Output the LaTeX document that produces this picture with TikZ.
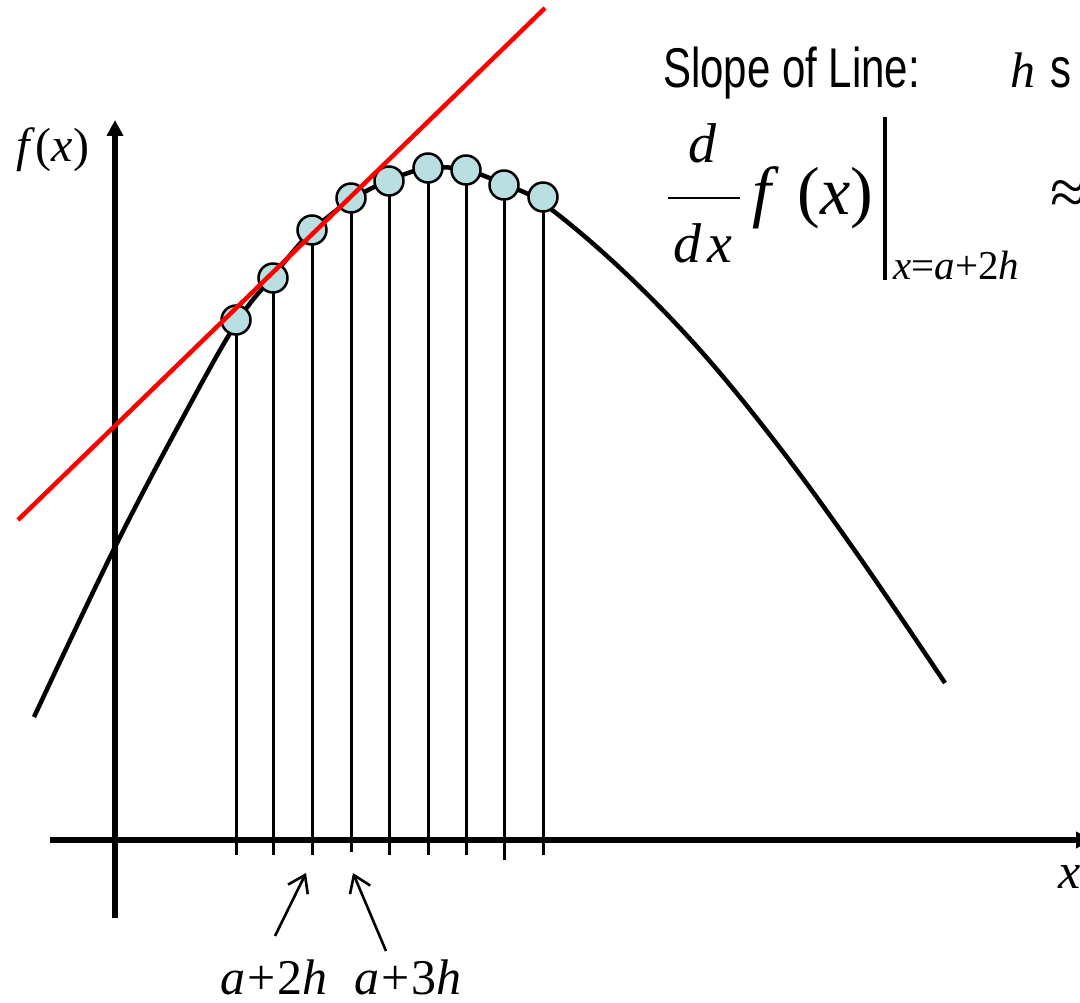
\documentclass[tikz,border=0pt]{standalone}
\usepackage{fontspec}
\setmainfont{Liberation Serif}
\setsansfont{Liberation Sans}
\usetikzlibrary{arrows.meta}
\definecolor{dotblue}{RGB}{185,223,226}
\tikzset{
  >={Triangle[length=16pt,width=16pt]},
  axis/.style={line width=6pt},
  curve/.style={line width=4.5pt},
  tangent/.style={red, line width=4.5pt},
  sample/.style={circle, draw, line width=2.5pt, fill=dotblue, minimum size=29pt, inner sep=0pt},
  stem/.style={line width=3pt},
  pointer/.style={line width=2.6pt, -{Straight Barb[length=16pt,width=22pt]}},
  txt/.style={inner sep=0pt},
}
\newcommand{\slidesans}[1]{\scalebox{0.75}[1]{\sffamily\fontsize{56}{60}\selectfont #1}}
\newcommand{\pl}{\kern2pt+\kern2pt}

\begin{document}
\begin{tikzpicture}[x=1pt, y=-1pt]
  \clip (0,0) rectangle (1080,1003);
  % axes
  \coordinate (xs) at (50,840);
  \coordinate (xe) at (1092,840);
  \coordinate (ys) at (115,918);
  \coordinate (ye) at (115,120);
  \draw[axis, ->] (xs) -- (xe);
  \draw[axis, ->] (ys) -- (ye);
  \node[txt] (fx) at (53,150) {\fontsize{48}{54}\selectfont\textit{f}(\textit{x})};
  \node[txt, anchor=base west] (xl) at (1058,888) {\fontsize{50}{56}\selectfont\textit{x}};

  % function
  \draw[curve] plot[smooth, tension=0.6] coordinates {(34,717) (115,547) (187,410) (237,322)
    (273,276) (311,232) (351,200) (390,180) (428,168) (466,170) (503,184) (544,204)
    (620,268) (700,350) (780,448) (860,558) (945,683)};

  % sample points
  \foreach \i/\px/\py/\ty in {1/236/320/855, 2/273/278/855, 3/312/230/855, 4/351/198/852,
      5/389/181/855, 6/428/168/855, 7/466/170/855, 8/504/185/860, 9/543/197/855} {
    \coordinate (c\i) at (\px,\py);
    \coordinate (t\i) at (\px,\ty);
    \draw[stem] (c\i) -- (t\i);
    \node[sample] (s\i) at (c\i) {};
  }

  % tangent at a+2h
  \coordinate (ta) at (18,520);
  \coordinate (tb) at (545,8);
  \draw[tangent] (ta) -- (tb);

  % labels under the axis
  \node[txt, anchor=base] (lab2) at (274,994) {\fontsize{50}{56}\selectfont\textit{a}\pl 2\textit{h}};
  \node[txt, anchor=base] (lab3) at (408,994) {\fontsize{50}{56}\selectfont\textit{a}\pl 3\textit{h}};
  \coordinate (p2) at (275,936);
  \coordinate (q2) at (306,873);
  \coordinate (p3) at (386,951);
  \coordinate (q3) at (353,873);
  \draw[pointer] (p2) -- (q2);
  \draw[pointer] (p3) -- (q3);

  % text on the right
  \node[txt, anchor=base west] (slope) at (663,88) {\slidesans{Slope of Line:}};
  \node[txt, anchor=base west] (hv) at (1010,88) {\fontsize{50}{56}\selectfont\textit{h}};
  \node[txt, anchor=base west] (sm) at (1050,88) {\slidesans{s}};

  \node[txt, anchor=base] (num) at (703,163) {\fontsize{56}{60}\selectfont\textit{d}};
  \node[txt, anchor=base] (den) at (703,263) {\fontsize{56}{60}\selectfont\textit{d}\hspace{0.12em}\textit{x}};
  \draw[line width=2.8pt] (668,198) -- (740,198);
  \node[txt, anchor=base west] (fofx) at (752,215) {\fontsize{68}{72}\selectfont\textit{f}\;(\textit{x})};
  \draw[line width=3.2pt] (885,117) -- (885,280);
  \node[txt, anchor=base west] (at) at (893,280) {\fontsize{41}{46}\selectfont\textit{x}=\textit{a}+2\textit{h}};
  \node[txt, anchor=base west] (apx) at (1050,215) {\fontsize{66}{70}\selectfont ≈};
\end{tikzpicture}
\end{document}
